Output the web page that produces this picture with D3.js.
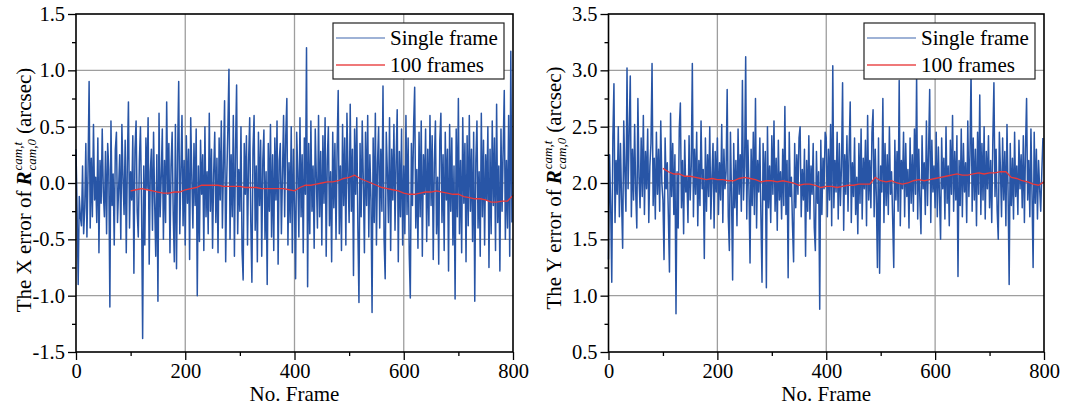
<!DOCTYPE html>
<html>
<head>
<meta charset="utf-8">
<script src="https://cdn.jsdelivr.net/npm/d3@7"></script>
<style>
  body { margin: 0; background: #fff; }
  svg { display: block; }
  text { font-family: "Liberation Serif", "Times New Roman", serif; fill: #000; }
</style>
</head>
<body>
<svg id="chart" width="1065" height="412"></svg>
<script>
// single-frame errors, one value every 2 frames (0..798)
const xErrSingle = [
  0.30, -0.25, -0.90, -0.12, -0.30, -0.38, 0.15, -0.45, -0.22, 0.35, -0.48, 0.10, 0.90, -0.40, 0.22, -0.30, 0.52, -0.15, 0.05, -0.35,
  0.40, -0.62, 0.20, -0.18, 0.48, -0.08, -0.30, 0.28, -0.45, 0.35, 0.12, -1.10, 0.55, -0.20, 0.08, -0.55, 0.30, 0.45, -0.35, -0.05,
  0.25, -0.50, 0.52, 0.05, -0.28, 0.38, -0.62, 0.18, 0.72, -0.40, 0.10, -0.15, 0.42, -0.80, 0.30, 0.55, -0.25, -0.48, 0.20, 0.50,
  -0.20, -1.38, 0.15, -0.55, 0.40, -0.05, 0.58, -0.72, 0.10, 0.30, -0.42, 0.45, -0.18, -0.65, 0.25, -1.05, 0.62, -0.30, 0.05, 0.48,
  -0.50, 0.20, -0.35, 0.72, -0.10, 0.35, -0.62, 0.15, 0.45, -0.28, -0.70, 0.52, -0.76, 0.25, 0.90, -0.45, 0.10, 0.60, -0.38, 0.20,
  -0.55, 0.42, -0.18, 0.30, -0.68, 0.58, 0.05, -0.40, 0.35, -0.20, 0.48, -1.00, 0.15, -0.52, 0.38, -0.10, 0.25, -0.60, 0.50, -0.30,
  0.10, -0.45, 0.62, -0.25, 0.30, -0.58, 0.08, 0.45, -0.35, 0.22, -0.62, 0.40, -0.15, 0.55, -0.40, 0.18, 0.73, -0.70, 0.05, 0.48,
  1.01, -0.50, 0.25, -0.30, 0.60, -0.65, 0.30, 0.87, -0.45, 0.12, -0.25, 0.50, -0.60, -0.86, 0.35, -0.10, 0.42, -0.55, 0.20, 0.58,
  -0.35, -0.88, 0.30, 0.60, -0.42, 0.15, -0.70, 0.45, -0.20, 0.38, -0.65, 0.20, 0.47, -0.50, 0.10, -0.90, 0.35, -0.25, 0.52, -0.48,
  0.25, -0.60, 0.40, -0.15, 0.55, -0.72, 0.20, 0.35, -0.45, 0.08, 0.60, -0.30, 0.42, 0.75, -0.55, 0.18, -0.35, 0.50, -0.62, 0.30,
  -0.20, -0.85, 0.45, 0.10, -0.48, 0.58, -0.30, 0.25, -0.62, 0.40, -0.10, 1.20, -0.92, 0.35, -0.45, 0.55, -0.25, 0.15, -0.58, 0.48,
  0.05, -0.40, 0.60, -0.30, 0.28, -0.55, 0.42, -0.18, 0.58, -0.65, 0.20, 0.50, -0.38, 0.10, -0.70, 0.45, -0.22, 0.35, -0.50, 0.30,
  0.82, -0.45, 0.15, -0.60, 0.52, -0.20, 0.40, -0.55, 0.62, 0.08, -0.35, 0.70, -0.25, 0.30, -0.82, 0.48, -0.10, 0.58, -0.40, -1.06,
  0.35, -0.30, 0.55, 0.02, -0.62, 0.45, -0.20, 0.60, -0.48, 0.25, -0.15, -1.15, 0.40, -0.35, 0.62, -0.55, 0.18, 0.50, -0.40, 0.30,
  -0.25, 0.86, -0.50, -0.85, 0.45, 0.10, -0.35, 0.58, -0.60, 0.30, -0.15, 0.52, -0.42, 0.20, 0.65, -0.70, 0.28, -0.30, 0.48, -0.55,
  0.15, -0.45, 0.60, -0.28, 0.40, -0.62, -1.02, 0.35, -0.20, 0.50, 0.85, -0.40, 0.12, -0.58, 0.45, -0.30, 0.55, -0.65, 0.25, -0.10,
  0.48, -0.52, 0.30, -0.38, 0.60, -0.20, 0.42, -0.68, 0.18, 0.55, -0.45, 0.05, -0.72, 0.38, 0.62, -0.35, 0.25, -0.60, 0.45, -0.15,
  0.30, -0.78, 0.52, -0.25, 0.40, -0.55, 0.15, -1.03, 0.48, -0.30, 0.75, -0.45, 0.20, -0.62, 0.58, -0.18, 0.35, -0.70, 0.42, -0.38,
  0.60, -0.25, 0.30, -0.52, 0.45, -1.05, 0.20, 0.55, -0.40, 0.10, -0.65, 0.62, -0.30, 0.38, -0.55, 0.25, -0.15, 0.50, -0.75, 0.30,
  -0.45, 0.55, -0.20, 0.40, -0.60, 0.70, -0.35, 0.15, -0.78, 0.48, -0.25, 0.30, 0.82, -0.50, 0.20, -0.40, 0.60, -0.65, 1.17, -0.35
];

const yErrSingle = [
  1.32, 2.25, 1.80, 1.12, 2.40, 2.88, 1.65, 2.20, 1.90, 2.50, 1.70, 2.35, 1.85, 1.42, 2.55, 2.10, 1.75, 3.02, 1.95, 2.45,
  2.95, 1.70, 2.30, 1.85, 2.52, 1.92, 1.60, 2.75, 2.05, 1.78, 2.40, 1.88, 2.60, 1.72, 2.28, 1.95, 2.48, 1.65, 2.15, 2.35,
  3.06, 1.80, 2.22, 1.68, 2.45, 1.90, 2.30, 1.75, 2.55, 2.00, 1.85, 1.32, 2.40, 1.95, 2.18, 1.70, 1.21, 2.62, 1.88, 2.35,
  1.72, 2.25, 0.84, 2.10, 1.60, 2.48, 2.71, 1.78, 2.20, 1.55, 2.38, 1.92, 2.05, 1.65, 2.42, 1.85, 2.15, 3.06, 1.70, 2.30,
  1.90, 2.45, 1.62, 2.20, 1.80, 2.55, 1.95, 2.12, 1.33, 2.40, 1.75, 2.25, 1.88, 2.50, 1.68, 2.05, 2.35, 1.60, 2.28, 1.92,
  2.40, 1.72, 2.18, 1.85, 2.52, 1.65, 2.30, 1.95, 2.10, 2.83, 1.70, 1.40, 2.45, 1.88, 1.14, 2.35, 1.78, 2.20, 1.62, 2.48,
  1.90, 2.25, 1.75, 2.91, 1.85, 2.15, 3.12, 1.68, 2.38, 1.95, 1.29, 2.30, 1.80, 2.45, 1.72, 2.75, 1.60, 2.20, 1.92, 2.40,
  1.70, 1.12, 2.35, 1.85, 2.28, 1.07, 2.50, 1.78, 2.15, 1.65, 2.42, 1.90, 2.55, 1.75, 2.22, 1.58, 2.38, 1.85, 2.10, 1.68,
  2.30, 1.80, 2.68, 1.72, 2.20, 1.16, 2.45, 1.88, 2.05, 1.62, 1.30, 2.35, 1.78, 2.25, 1.90, 2.40, 2.50, 1.70, 2.12, 1.85,
  2.30, 1.35, 2.20, 1.75, 2.42, 1.68, 2.15, 1.90, 2.35, 1.60, 1.40, 2.28, 1.82, 2.10, 0.88, 2.38, 1.72, 2.22, 1.95, 2.45,
  2.40, 1.70, 2.30, 1.85, 2.52, 1.62, 3.04, 1.78, 2.20, 1.92, 2.45, 1.68, 2.35, 1.80, 2.15, 2.89, 1.58, 2.25, 1.90, 2.42,
  1.75, 2.28, 2.72, 1.65, 2.18, 1.88, 2.40, 1.72, 2.05, 1.55, 2.35, 1.82, 2.48, 1.68, 2.22, 1.95, 2.38, 1.62, 2.60, 1.85,
  2.20, 1.78, 2.45, 2.65, 1.70, 2.30, 1.88, 1.25, 2.40, 1.20, 2.15, 1.92, 2.75, 1.65, 2.35, 1.80, 2.25, 1.72, 2.50, 1.90,
  2.10, 1.68, 1.25, 2.38, 1.85, 2.28, 1.75, 2.91, 1.62, 2.20, 1.95, 2.45, 1.70, 2.35, 1.88, 2.12, 1.60, 2.40, 1.82, 2.25,
  1.75, 2.48, 1.90, 2.95, 1.68, 2.30, 1.85, 1.55, 2.42, 1.95, 2.18, 1.72, 2.55, 1.80, 2.28, 2.83, 1.65, 2.38, 1.92, 2.15,
  1.78, 2.45, 1.70, 2.32, 1.88, 1.50, 2.40, 1.95, 2.22, 1.68, 2.50, 1.82, 2.15, 1.62, 2.38, 1.90, 2.60, 1.75, 2.28, 1.85,
  2.42, 1.17, 2.20, 1.80, 2.48, 1.70, 2.35, 1.92, 2.18, 1.65, 2.55, 1.88, 2.25, 3.00, 1.75, 2.40, 1.85, 2.30, 1.62, 2.45,
  1.90, 2.78, 1.72, 2.35, 1.85, 2.50, 1.68, 2.28, 1.95, 2.42, 1.78, 2.20, 1.65, 2.38, 2.89, 1.88, 2.30, 1.75, 1.50, 2.45,
  2.12, 1.70, 2.40, 1.85, 2.28, 1.62, 2.52, 1.92, 1.10, 2.35, 1.80, 2.22, 1.68, 2.45, 1.88, 2.15, 1.72, 2.38, 1.95, 2.25,
  1.78, 2.42, 1.65, 2.30, 2.75, 1.85, 2.20, 1.70, 2.48, 1.90, 1.25, 2.45, 1.82, 2.30, 1.68, 2.20, 1.95, 1.75, 2.10, 2.40
];

// 100-frame averages, one value every 10 frames (100..800)
const xErrAvg = [
  -0.07, -0.06, -0.05, -0.06, -0.07, -0.08, -0.09, -0.09, -0.08, -0.08,
  -0.06, -0.05, -0.04, -0.02, -0.02, -0.02, -0.02, -0.03, -0.03, -0.03,
  -0.03, -0.04, -0.04, -0.04, -0.05, -0.05, -0.05, -0.05, -0.05, -0.06,
  -0.07, -0.04, -0.02, -0.02, -0.01, 0.00, 0.01, 0.01, 0.02, 0.04,
  0.05, 0.07, 0.04, 0.02, 0.00, -0.02, -0.04, -0.05, -0.06, -0.07,
  -0.09, -0.10, -0.10, -0.09, -0.08, -0.08, -0.07, -0.08, -0.09, -0.10,
  -0.10, -0.12, -0.13, -0.14, -0.14, -0.15, -0.17, -0.17, -0.16, -0.16,
  -0.11
];

const yErrAvg = [
  2.13, 2.10, 2.08, 2.08, 2.06, 2.06, 2.05, 2.04, 2.03, 2.04,
  2.03, 2.03, 2.02, 2.02, 2.04, 2.05, 2.04, 2.03, 2.01, 2.02,
  2.02, 2.01, 2.02, 2.01, 2.00, 1.98, 1.99, 1.99, 1.98, 1.96,
  1.97, 1.97, 1.96, 1.97, 1.98, 1.98, 1.99, 1.99, 1.99, 2.05,
  2.02, 2.01, 2.02, 2.00, 1.99, 2.00, 2.02, 2.03, 2.02, 2.03,
  2.04, 2.05, 2.06, 2.07, 2.08, 2.07, 2.07, 2.08, 2.09, 2.08,
  2.09, 2.09, 2.10, 2.10, 2.05, 2.04, 2.02, 2.01, 1.99, 1.98,
  2.01
];

const singleStep = 2;
const avgStart = 100, avgStep = 10;
const xTicks = [0, 200, 400, 600, 800];
const xMinorTicks = [100, 300, 500, 700];
const leftYTicks = [-1.5, -1.0, -0.5, 0.0, 0.5, 1.0, 1.5];
const rightYTicks = [0.5, 1.0, 1.5, 2.0, 2.5, 3.0, 3.5];
const legendLabels = ["Single frame", "100 frames"];

const BLUE = "#2855a6";
const RED = "#e8383a";
const GRID = "#9e9e9e";
const SERIF = '"Liberation Serif", "Times New Roman", serif';

const svg = d3.select("#chart");

function drawPanel(p) {
  const x = d3.scaleLinear().domain([0, 800]).range([p.x0, p.x1]);
  const y = d3.scaleLinear().domain(d3.extent(p.yTicks)).range([p.y1, p.y0]);
  const g = svg.append("g");

  // grid
  g.append("g").selectAll("line")
    .data(p.yTicks.slice(1, -1))
    .join("line")
    .attr("x1", p.x0).attr("x2", p.x1)
    .attr("y1", (d) => y(d)).attr("y2", (d) => y(d))
    .attr("stroke", GRID).attr("stroke-width", 1.3);
  g.append("g").selectAll("line")
    .data(xTicks.slice(1, -1))
    .join("line")
    .attr("x1", (d) => x(d)).attr("x2", (d) => x(d))
    .attr("y1", p.y0).attr("y2", p.y1)
    .attr("stroke", GRID).attr("stroke-width", 1.3);

  // series
  const single = d3.line().x((d, i) => x(i * singleStep)).y((d) => y(d));
  g.append("path")
    .datum(p.single)
    .attr("d", single)
    .attr("fill", "none")
    .attr("stroke", BLUE)
    .attr("stroke-width", 1.5)
    .attr("stroke-linejoin", "round");

  const avg = d3.line().x((d, i) => x(avgStart + i * avgStep)).y((d) => y(d));
  g.append("path")
    .datum(p.avg)
    .attr("d", avg)
    .attr("fill", "none")
    .attr("stroke", RED)
    .attr("stroke-width", 1.3);

  // axes
  const yMinor = d3.pairs(p.yTicks).map(([a, b]) => (a + b) / 2);
  g.append("g").attr("transform", `translate(${p.x0},0)`)
    .call(d3.axisLeft(y).tickValues(p.yTicks).tickSize(8).tickSizeOuter(0)
      .tickPadding(3).tickFormat((d) => d.toFixed(1)));
  g.append("g").attr("transform", `translate(${p.x0},0)`)
    .call(d3.axisLeft(y).tickValues(yMinor).tickSize(4).tickSizeOuter(0).tickFormat(""));
  g.append("g").attr("transform", `translate(0,${p.y1})`)
    .call(d3.axisBottom(x).tickValues(xTicks).tickSize(8).tickSizeOuter(0).tickPadding(3));
  g.append("g").attr("transform", `translate(0,${p.y1})`)
    .call(d3.axisBottom(x).tickValues(xMinorTicks).tickSize(4).tickSizeOuter(0).tickFormat(""));

  g.selectAll(".domain").remove();
  g.selectAll(".tick line").attr("stroke", "#000").attr("stroke-width", 1.3);
  g.selectAll(".tick text").attr("font-family", SERIF).attr("font-size", 20.5).style("font-family", SERIF);

  // frame
  g.append("rect")
    .attr("x", p.x0).attr("y", p.y0)
    .attr("width", p.x1 - p.x0).attr("height", p.y1 - p.y0)
    .attr("fill", "none").attr("stroke", "#000").attr("stroke-width", 1.6);

  // x label
  g.append("text")
    .attr("x", (p.x0 + p.x1) / 2).attr("y", 401)
    .attr("text-anchor", "middle")
    .style("font-size", "21px")
    .text("No. Frame");

  // y label
  const lab = g.append("g").attr("transform", `translate(${p.labelX},${p.labelY}) rotate(-90)`);
  const inner = lab.append("g");
  let cx = 0;
  const t1 = inner.append("text").attr("x", cx).style("font-size", "21px").text(`The ${p.axisName} error of`);
  cx += t1.node().getComputedTextLength() + 5;
  const t2 = inner.append("text").attr("x", cx).style("font-size", "21px")
    .style("font-weight", "bold").style("font-style", "italic").text("R");
  cx += t2.node().getComputedTextLength() + 1;
  const sup = inner.append("text").attr("x", cx).attr("y", -9).style("font-size", "13px")
    .style("font-style", "italic").text("cam,t");
  const sub = inner.append("text").attr("x", cx).attr("y", 5).style("font-size", "13px")
    .style("font-style", "italic").text("cam,0");
  cx += Math.max(sup.node().getComputedTextLength(), sub.node().getComputedTextLength()) + 5;
  const t3 = inner.append("text").attr("x", cx).style("font-size", "21px").text("(arcsec)");
  cx += t3.node().getComputedTextLength();
  inner.attr("transform", `translate(${-cx / 2},0)`);

  // legend
  const lg = g.append("g").attr("transform", `translate(${p.x1 - 180},${p.y0 + 9})`);
  lg.append("rect").attr("width", 171).attr("height", 56)
    .attr("fill", "#fff").attr("stroke", "#222").attr("stroke-width", 1.2);
  const rows = lg.selectAll("g.row")
    .data(legendLabels.map((label, i) => ({ label, color: i === 0 ? BLUE : RED })))
    .join("g").attr("class", "row")
    .attr("transform", (d, i) => `translate(0,${15 + i * 27})`);
  rows.append("line").attr("x1", 3).attr("x2", 52)
    .attr("stroke", (d) => d.color).attr("stroke-width", 1.3).attr("opacity", (d, i) => i === 0 ? 0.6 : 0.9);
  rows.append("text").attr("x", 57).attr("y", 7)
    .style("font-size", "21px")
    .text((d) => d.label);
}

drawPanel({
  x0: 76, x1: 513, y0: 14, y1: 352,
  yTicks: leftYTicks, single: xErrSingle, avg: xErrAvg,
  axisName: "X", labelX: 31, labelY: 190
});

drawPanel({
  x0: 608.5, x1: 1044, y0: 14, y1: 352,
  yTicks: rightYTicks, single: yErrSingle, avg: yErrAvg,
  axisName: "Y", labelX: 561, labelY: 188
});
</script>
</body>
</html>
